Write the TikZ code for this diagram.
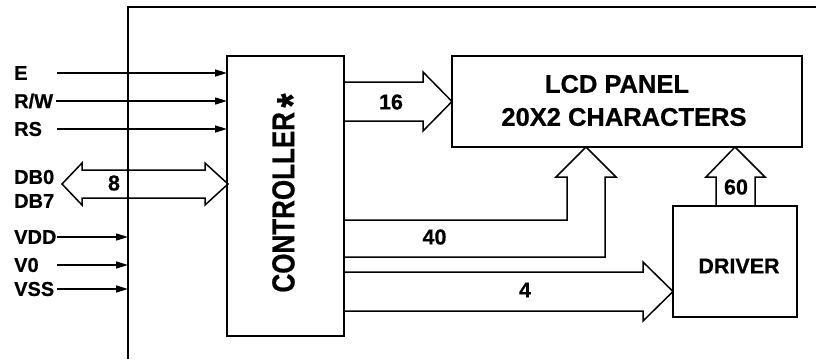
\documentclass[tikz,border=0pt]{standalone}
\usepackage{fontspec}
\setmainfont{Liberation Sans}
\newfontfamily\heavy[FakeBold=0.7]{Liberation Sans Bold}
\usetikzlibrary{arrows.meta}
\begin{document}
\begin{tikzpicture}[x=1pt,y=-1pt,
  box/.style={draw,line width=1.5pt,inner sep=0pt},
  lbl/.style={font=\heavy\fontsize{20}{22}\selectfont,anchor=west,inner sep=0pt},
  num/.style={font=\heavy\fontsize{21.5}{22}\selectfont,inner sep=0pt},
  sig/.style={line width=1.5pt,-{Triangle[length=12pt,width=7pt]}},
  bus/.style={line width=1.5pt,line join=miter},
  frame/.style={line width=1.2pt}]
\useasboundingbox (0,0) rectangle (816,359);
% outer frame
\draw[frame] (128,359) -- (128,7) -- (816,7);
% blocks
\draw[box] (227,56) rectangle (344,336);
\node[inner sep=0pt] (ctrl) at (285.5,196) {};
\draw[box] (452,56) rectangle (802,147);
\node[inner sep=0pt] (lcd) at (627,101.5) {};
\draw[box] (673,206) rectangle (797,317);
\node[inner sep=0pt] (drv) at (735,261.5) {};
% texts in blocks
\node[rotate=90,inner sep=0pt,font=\heavy\fontsize{26}{26}\selectfont] (ctrltxt) at (290,193)
  {\scalebox{1}[1.22]{CONTROLLER\,\raisebox{-11pt}{\scalebox{1.4}{*}}}};
\node[inner sep=0pt,font=\heavy\fontsize{25.5}{26}\selectfont] (lcd1) at (617,84) {LCD PANEL};
\node[inner sep=0pt,font=\heavy\fontsize{25.5}{26}\selectfont] (lcd2) at (624,117) {20X2 CHARACTERS};
\node[inner sep=0pt,font=\heavy\fontsize{21.5}{22}\selectfont] (drvtxt) at (739,266) {DRIVER};
% left labels
\node[lbl] (lE) at (14,73) {E};
\node[lbl] (lRW) at (14,101) {R/W};
\node[lbl] (lRS) at (14,129) {RS};
\node[lbl] (lDB0) at (14,177) {DB0};
\node[lbl] (lDB7) at (14,201) {DB7};
\node[lbl] (lVDD) at (14,237) {VDD};
\node[lbl] (lV0) at (14,265) {V0};
\node[lbl] (lVSS) at (14,289) {VSS};
% signal arrows
\coordinate (eS) at (57,73);   \coordinate (eT) at (227,73);
\coordinate (rwS) at (56,101); \coordinate (rwT) at (227,101);
\coordinate (rsS) at (57,129); \coordinate (rsT) at (227,129);
\coordinate (vdS) at (57,237); \coordinate (vdT) at (128,237);
\coordinate (v0S) at (57,265); \coordinate (v0T) at (128,265);
\coordinate (vsS) at (57,289); \coordinate (vsT) at (128,289);
\draw[sig] (eS) -- (eT);
\draw[sig] (rwS) -- (rwT);
\draw[sig] (rsS) -- (rsT);
\draw[sig] (vdS) -- (vdT);
\draw[sig] (v0S) -- (v0T);
\draw[sig] (vsS) -- (vsT);
% data bus double arrow
\draw[bus] (62,184) -- (82,163) -- (82,170) -- (205,170) -- (205,163) -- (228,184)
  -- (205,205) -- (205,198) -- (82,198) -- (82,205) -- cycle;
\node[num] (n8) at (114,183) {8};
% 16 bus
\draw[bus] (344,82) -- (423,82) -- (423,72) -- (452,101.5) -- (423,131) -- (423,121) -- (344,121);
\node[num] (n16) at (391,102) {16};
% 40 bus
\draw[bus] (344,220) -- (567,220) -- (567,177) -- (556,177) -- (586,147) -- (616,177)
  -- (605,177) -- (605,257) -- (344,257);
\node[num] (n40) at (434.5,237) {40};
% 4 bus
\draw[bus] (344,272) -- (643,272) -- (643,262) -- (673,291.5) -- (643,321) -- (643,311) -- (344,311);
\node[num] (n4) at (525,290) {4};
% 60 bus
\draw[bus] (716,206) -- (716,177) -- (706,177) -- (735,147) -- (765,177) -- (755,177) -- (755,206);
\node[num] (n60) at (736,187) {60};
\end{tikzpicture}
\end{document}
